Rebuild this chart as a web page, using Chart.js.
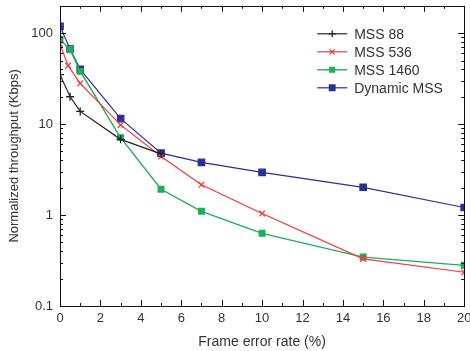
<!DOCTYPE html>
<html><head><meta charset="utf-8">
<script src="https://cdn.jsdelivr.net/npm/chart.js@4/dist/chart.umd.min.js"></script>
<style>html,body{margin:0;padding:0;background:#fff}#wrap{width:470px;height:351px;position:relative}</style>
</head><body><div id="wrap"><canvas id="c" width="470" height="351"></canvas></div>
<script>
// Data
const xMss88 = [0, 0.5, 1, 3, 5];
const yMss88 = [35, 20, 13.8, 6.8, 4.7];
const xMss536 = [0, 0.4, 1, 3, 5, 7, 10, 15, 20];
const yMss536 = [76, 44, 28, 9.8, 4.4, 2.15, 1.04, 0.33, 0.235];
const xMss1460 = [0, 0.5, 1, 3, 5, 7, 10, 15, 20];
const yMss1460 = [85, 66, 38, 7.1, 1.92, 1.1, 0.63, 0.345, 0.28];
const xDynamic = [0, 0.5, 1, 3, 5, 7, 10, 15, 20];
const yDynamic = [119, 67, 40, 11.5, 4.8, 3.8, 2.95, 2.02, 1.21];
const seriesNames = ['MSS 88', 'MSS 536', 'MSS 1460', 'Dynamic MSS'];
const xTickValues = [0, 2, 4, 6, 8, 10, 12, 14, 16, 18, 20];
const yTickValues = [0.1, 1, 10, 100];

const pts = (xs, ys) => xs.map((x, i) => ({x, y: ys[i]}));
const FONT = '"Liberation Sans", Arial, sans-serif';
const TXT = '#333';

const styles = [
  {c:'#222222', p:'cross', r:4, w:1.2},
  {c:'#f23a3a', p:'crossRot', r:4, w:1.2},
  {c:'#1fae5a', p:'rect', r:4, w:1.4},
  {c:'#2b2f96', p:'rect', r:4.5, w:1.2}
];
const dataSets = [pts(xMss88,yMss88), pts(xMss536,yMss536), pts(xMss1460,yMss1460), pts(xDynamic,yDynamic)];

const frame = {
  id:'frame',
  afterDraw(chart){
    const {ctx, chartArea:a, scales:{x, y}} = chart;
    ctx.save();
    ctx.strokeStyle = '#111'; ctx.lineWidth = 1;
    ctx.strokeRect(Math.round(a.left)+0.5, Math.round(a.top)+0.5, Math.round(a.right-a.left), Math.round(a.bottom-a.top));
    ctx.beginPath();
    for (let v = 0; v <= 20; v++) {
      const px = Math.round(x.getPixelForValue(v)) + 0.5;
      const L = v % 2 === 0 ? 6 : 3;
      ctx.moveTo(px, a.bottom); ctx.lineTo(px, a.bottom - L);
      ctx.moveTo(px, a.top); ctx.lineTo(px, a.top + L);
    }
    for (let d = 0.1; d < 300; d *= 10) {
      for (let m = 1; m <= 9; m++) {
        const v = d * m;
        if (v < 0.1 - 1e-9 || v > 200 + 1e-9) continue;
        const py = Math.round(y.getPixelForValue(v)) + 0.5;
        const L = m === 1 ? 6 : 3;
        ctx.moveTo(a.left, py); ctx.lineTo(a.left + L, py);
        ctx.moveTo(a.right, py); ctx.lineTo(a.right - L, py);
      }
    }
    ctx.stroke();
    // legend
    const lx = a.right - 147, ty0 = a.top + 28, dy = 18;
    ctx.font = '14px ' + FONT; ctx.textBaseline = 'middle';
    chart.data.datasets.forEach((ds, i) => {
      const yy = ty0 + i * dy;
      ctx.strokeStyle = ds.borderColor; ctx.fillStyle = ds.borderColor; ctx.lineWidth = ds.borderWidth;
      ctx.beginPath(); ctx.moveTo(lx, yy); ctx.lineTo(lx + 30, yy); ctx.stroke();
      ctx.lineWidth = 1.2;
      Chart.helpers.drawPoint(ctx, {pointStyle: ds.pointStyle, radius: ds.pointRadius - 0.5, borderWidth: 1.2}, lx + 15, yy);
      ctx.fillStyle = TXT;
      ctx.fillText(ds.label, lx + 37, yy + 1);
    });
    ctx.restore();
  }
};

new Chart(document.getElementById('c'), {
  type: 'line',
  data: {
    datasets: dataSets.map((d, i) => ({
      label: seriesNames[i], data: d,
      borderColor: styles[i].c, backgroundColor: styles[i].c,
      pointBackgroundColor: styles[i].c, pointBorderColor: styles[i].c,
      borderWidth: styles[i].w, pointStyle: styles[i].p, pointRadius: styles[i].r,
      pointBorderWidth: 1.3, tension: 0, fill: false
    }))
  },
  options: {
    responsive: false, animation: false, devicePixelRatio: 1,
    layout: {padding: {top: 5, right: 3, left: 0, bottom: 0}},
    plugins: {legend: {display: false}, tooltip: {enabled: false}},
    scales: {
      x: {
        type: 'linear', min: 0, max: 20,
        afterBuildTicks: s => { s.ticks = xTickValues.map(v => ({value: v})); },
        afterFit: s => { s.height = 45; s.paddingRight = 0; s.paddingLeft = 0; },
        grid: {display: false, drawTicks: false}, border: {display: false},
        ticks: {font: {family: FONT, size: 13}, color: TXT, padding: 5, maxRotation: 0, autoSkip: false},
        title: {display: true, text: 'Frame error rate (%)', font: {family: FONT, size: 14}, color: TXT, padding: {top: 5, bottom: 0}}
      },
      y: {
        type: 'logarithmic', min: 0.1, max: 200,
        afterBuildTicks: s => { s.ticks = yTickValues.map(v => ({value: v})); },
        afterFit: s => { s.width = 60; s.paddingTop = 0; s.paddingBottom = 0; },
        grid: {display: false, drawTicks: false}, border: {display: false},
        ticks: {font: {family: FONT, size: 13}, color: TXT, padding: 7, callback: v => String(v)},
        title: {display: true, text: 'Normalized throughput (Kbps)', font: {family: FONT, size: 13}, color: TXT, padding: {top: 7, bottom: 4}}
      }
    }
  },
  plugins: [frame]
});
</script></body></html>
